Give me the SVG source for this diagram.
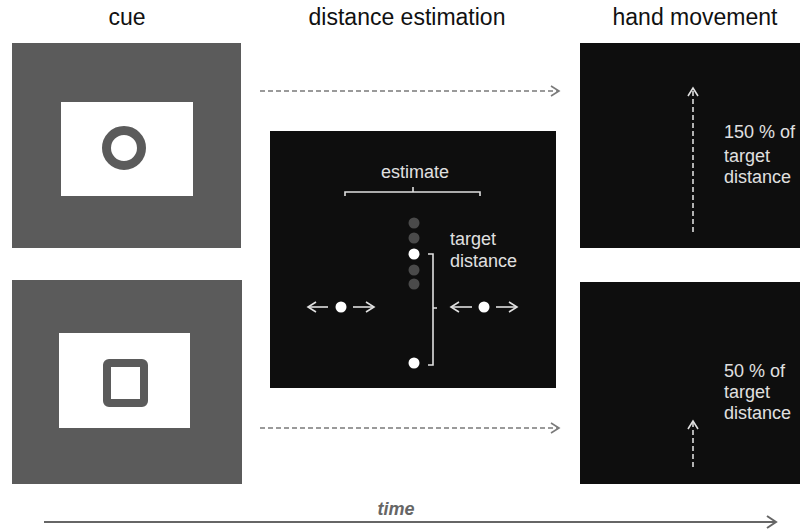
<svg xmlns="http://www.w3.org/2000/svg" width="800" height="531" viewBox="0 0 800 531">
<defs>
<style>
.title{font-family:"Liberation Sans",Arial,sans-serif;font-size:23px;fill:#111;text-anchor:middle}
.lbl{font-family:"Liberation Sans",Arial,sans-serif;font-size:18px;fill:#e0e0e0}
.gray{fill:#5b5b5b}
.blk{fill:#0e0e0e}
.dash{fill:none;stroke:#7a7a7a;stroke-width:1.6;stroke-dasharray:5 3}
.wdash{fill:none;stroke:#dcdcdc;stroke-width:1.6;stroke-dasharray:5 3}
.wl{fill:none;stroke:#e0e0e0;stroke-width:1.6}
</style>
<marker id="ag" markerWidth="12" markerHeight="12" refX="9" refY="6" orient="auto" markerUnits="userSpaceOnUse">
<path d="M1,1 L9,6 L1,11" fill="none" stroke="#7a7a7a" stroke-width="1.6"/>
</marker>
<marker id="aw" markerWidth="12" markerHeight="12" refX="9" refY="6" orient="auto" markerUnits="userSpaceOnUse">
<path d="M1,1 L9,6 L1,11" fill="none" stroke="#e0e0e0" stroke-width="1.6"/>
</marker>
<marker id="at" markerWidth="14" markerHeight="14" refX="10" refY="7" orient="auto" markerUnits="userSpaceOnUse">
<path d="M1,1 L10,7 L1,13" fill="none" stroke="#666" stroke-width="2"/>
</marker>
</defs>
<rect width="800" height="531" fill="#fff"/>

<text class="title" x="127" y="25">cue</text>
<text class="title" x="407" y="25">distance estimation</text>
<text class="title" x="695" y="25">hand movement</text>

<g id="cue-circle">
<rect class="gray" x="12" y="43" width="229" height="205"/>
<rect x="61" y="102" width="132" height="94" fill="#fff"/>
<circle cx="124" cy="148" r="17.5" fill="none" stroke="#5b5b5b" stroke-width="9"/>
</g>

<g id="cue-square">
<rect class="gray" x="12" y="280" width="230" height="204"/>
<rect x="59" y="333" width="131" height="95" fill="#fff"/>
<rect x="107" y="363" width="37" height="40" rx="2" fill="none" stroke="#5b5b5b" stroke-width="8"/>
</g>

<g id="distance-estimation">
<rect class="blk" x="270" y="131" width="286" height="257"/>
<text class="lbl" x="415" y="178" text-anchor="middle">estimate</text>
<path class="wl" d="M345,196 V192 H480 V196 M413,192 V187"/>
<circle cx="414" cy="223" r="5.5" fill="#4a4a4a"/>
<circle cx="414" cy="238" r="5.5" fill="#4a4a4a"/>
<circle cx="414" cy="254" r="5.5" fill="#fff"/>
<circle cx="414" cy="270" r="5.5" fill="#4a4a4a"/>
<circle cx="414" cy="284" r="5.5" fill="#4a4a4a"/>
<circle cx="414" cy="363" r="5.5" fill="#fff"/>
<path class="wl" d="M428,254 H433 V365 H428 M433,308 H437"/>
<text class="lbl" x="450" y="245">target</text>
<text class="lbl" x="450" y="267">distance</text>
<circle cx="341" cy="307" r="5.5" fill="#fff"/>
<path class="wl" d="M328,307 H308" marker-end="url(#aw)"/>
<path class="wl" d="M353,307 H374" marker-end="url(#aw)"/>
<circle cx="484" cy="307" r="5.5" fill="#fff"/>
<path class="wl" d="M472,307 H451" marker-end="url(#aw)"/>
<path class="wl" d="M496,307 H517" marker-end="url(#aw)"/>
</g>

<g id="hand-150">
<rect class="blk" x="580" y="43" width="220" height="205"/>
<path class="wdash" d="M693,232 V88" marker-end="url(#aw)"/>
<text class="lbl" x="724" y="138">150 % of</text>
<text class="lbl" x="724" y="162">target</text>
<text class="lbl" x="724" y="183">distance</text>
</g>

<g id="hand-50">
<rect class="blk" x="580" y="282" width="220" height="202"/>
<path class="wdash" d="M693,467 V421" marker-end="url(#aw)"/>
<text class="lbl" x="724" y="377">50 % of</text>
<text class="lbl" x="724" y="398">target</text>
<text class="lbl" x="724" y="419">distance</text>
</g>

<g id="connectors">
<path class="dash" d="M260,91 H559" marker-end="url(#ag)"/>
<path class="dash" d="M260,428 H559" marker-end="url(#ag)"/>
<path d="M44,522 H776" fill="none" stroke="#666" stroke-width="2" marker-end="url(#at)"/>
<text x="396" y="515" text-anchor="middle" font-family="Liberation Sans,Arial,sans-serif" font-size="18" font-weight="bold" font-style="italic" fill="#666">time</text>
</g>
</svg>
